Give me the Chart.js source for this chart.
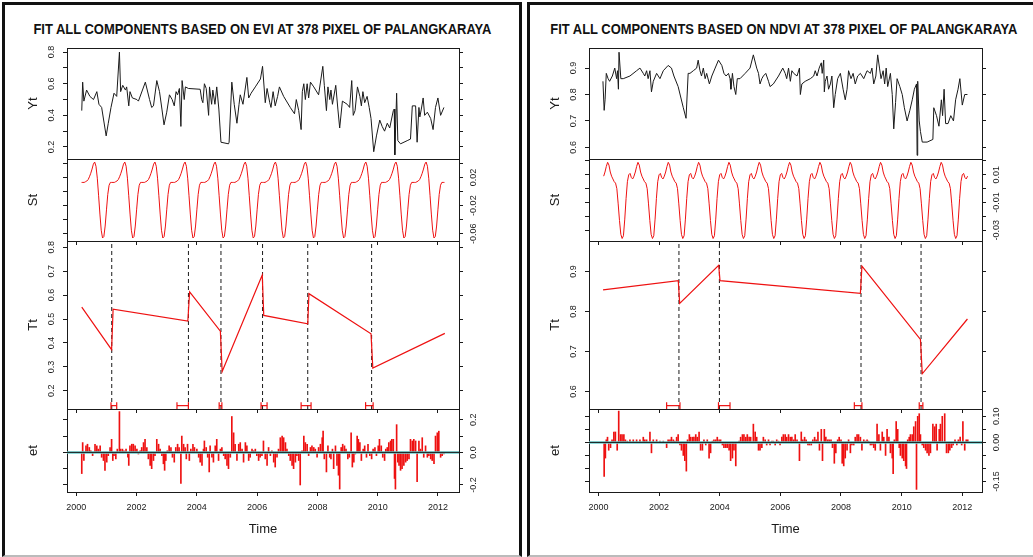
<!DOCTYPE html>
<html><head><meta charset="utf-8">
<script src="https://cdn.jsdelivr.net/npm/chart.js@4.4.1/dist/chart.umd.min.js"></script>
<style>
html,body{margin:0;padding:0;background:#fff;}
body{width:1033px;height:557px;position:relative;overflow:hidden;font-family:"Liberation Sans",Arial,Helvetica,sans-serif;}
.frame{position:absolute;box-sizing:border-box;border:3px solid #111;border-bottom:2px solid #bbb;}
.title{position:absolute;left:0;top:0;font-weight:bold;font-size:14px;line-height:16px;white-space:nowrap;color:#111;transform-origin:center center;}
canvas{position:absolute;}
</style></head>
<body>
<div class="frame" style="left:2px;top:2px;width:520px;height:555px"></div>
<div class="frame" style="left:527px;top:2px;width:520px;height:555px"></div>
<div class="title" id="titleEVI">FIT ALL COMPONENTS BASED ON EVI AT 378 PIXEL OF PALANGKARAYA</div>
<div class="title" id="titleNDVI">FIT ALL COMPONENTS BASED ON NDVI AT 378 PIXEL OF PALANGKARAYA</div>
<script>
// ---------------- data (times are years since 2000) ----------------
const BASE_YEAR = 2000;
const TS_START = 2000 + 4/23, TS_FREQ = 23;   // 16-day composites
const xTickYears = [2000, 2002, 2004, 2006, 2008, 2010, 2012];

// EVI panel
const eviYtT = [0.18,0.21,0.25,0.34,0.45,0.57,0.68,0.75,0.84,0.99,1.06,1.15,1.25,1.34,1.43,1.47,1.54,1.63,1.67,1.74,1.78,1.86,2.01,2.06,2.29,2.43,2.50,2.56,2.67,2.76,2.84,2.91,3.00,3.09,3.18,3.25,3.31,3.36,3.42,3.47,3.51,3.58,3.62,3.72,4.11,4.16,4.20,4.25,4.31,4.39,4.42,4.49,4.53,4.60,4.66,4.73,4.80,5.05,5.07,5.16,5.24,5.33,5.40,5.44,5.53,5.66,5.72,5.80,5.94,6.11,6.18,6.27,6.33,6.42,6.46,6.53,6.60,6.68,6.74,6.88,7.10,7.24,7.30,7.38,7.46,7.50,7.55,7.60,7.66,7.71,7.77,7.88,8.04,8.18,8.23,8.30,8.35,8.41,8.45,8.50,8.61,8.68,8.74,8.83,8.99,9.07,9.14,9.19,9.25,9.33,9.41,9.46,9.51,9.57,9.65,9.72,9.78,9.87,9.96,10.07,10.15,10.23,10.32,10.40,10.52,10.55,10.57,10.63,10.67,10.76,10.98,11.09,11.15,11.26,11.31,11.37,11.40,11.45,11.51,11.56,11.65,11.76,11.84,11.92,12.00,12.09,12.20];
const eviYtV = [0.43,0.61,0.49,0.56,0.52,0.50,0.55,0.47,0.45,0.27,0.35,0.45,0.54,0.52,0.80,0.55,0.59,0.56,0.58,0.46,0.55,0.51,0.50,0.49,0.61,0.50,0.45,0.46,0.62,0.55,0.44,0.34,0.42,0.53,0.50,0.46,0.55,0.53,0.57,0.33,0.62,0.50,0.58,0.57,0.565,0.50,0.48,0.60,0.57,0.40,0.58,0.47,0.56,0.47,0.58,0.44,0.23,0.22,0.23,0.61,0.47,0.35,0.47,0.53,0.47,0.64,0.51,0.54,0.58,0.63,0.71,0.48,0.57,0.48,0.45,0.55,0.46,0.52,0.58,0.52,0.45,0.41,0.50,0.43,0.31,0.55,0.60,0.50,0.60,0.51,0.61,0.58,0.53,0.71,0.59,0.43,0.58,0.50,0.56,0.47,0.59,0.44,0.32,0.49,0.47,0.45,0.62,0.40,0.43,0.58,0.52,0.46,0.55,0.48,0.52,0.45,0.38,0.17,0.27,0.37,0.33,0.30,0.35,0.32,0.43,0.44,0.15,0.54,0.24,0.22,0.24,0.25,0.46,0.46,0.23,0.45,0.39,0.44,0.51,0.40,0.42,0.38,0.31,0.45,0.51,0.40,0.45];
const eviSt = [
 0.013,0.013,0.013,0.014,0.015,0.017,0.021,0.026,0.032,0.039,0.042,0.036,0.019,-0.006,-0.032,-0.055,-0.066,-0.064,-0.049,
 -0.026,-0.004,0.009,0.013,0.013,0.013,0.013,0.014,0.015,0.017,0.021,0.026,0.032,0.039,0.042,0.036,0.019,-0.006,-0.032,-0.055,-0.066,-0.064,-0.049,
 -0.026,-0.004,0.009,0.013,0.013,0.013,0.013,0.014,0.015,0.017,0.021,0.026,0.032,0.039,0.042,0.036,0.019,-0.006,-0.032,-0.055,-0.066,-0.064,-0.049,
 -0.026,-0.004,0.009,0.013,0.013,0.013,0.013,0.014,0.015,0.017,0.021,0.026,0.032,0.039,0.042,0.036,0.019,-0.006,-0.032,-0.055,-0.066,-0.064,-0.049,
 -0.026,-0.004,0.009,0.013,0.013,0.013,0.013,0.014,0.015,0.017,0.021,0.026,0.032,0.039,0.042,0.036,0.019,-0.006,-0.032,-0.055,-0.066,-0.064,-0.049,
 -0.026,-0.004,0.009,0.013,0.013,0.013,0.013,0.014,0.015,0.017,0.021,0.026,0.032,0.039,0.042,0.036,0.019,-0.006,-0.032,-0.055,-0.066,-0.064,-0.049,
 -0.026,-0.004,0.009,0.013,0.013,0.013,0.013,0.014,0.015,0.017,0.021,0.026,0.032,0.039,0.042,0.036,0.019,-0.006,-0.032,-0.055,-0.066,-0.064,-0.049,
 -0.026,-0.004,0.009,0.013,0.013,0.013,0.013,0.014,0.015,0.017,0.021,0.026,0.032,0.039,0.042,0.036,0.019,-0.006,-0.032,-0.055,-0.066,-0.064,-0.049,
 -0.026,-0.004,0.009,0.013,0.013,0.013,0.013,0.014,0.015,0.017,0.021,0.026,0.032,0.039,0.042,0.036,0.019,-0.006,-0.032,-0.055,-0.066,-0.064,-0.049,
 -0.026,-0.004,0.009,0.013,0.013,0.013,0.013,0.014,0.015,0.017,0.021,0.026,0.032,0.039,0.042,0.036,0.019,-0.006,-0.032,-0.055,-0.066,-0.064,-0.049,
 -0.026,-0.004,0.009,0.013,0.013,0.013,0.013,0.014,0.015,0.017,0.021,0.026,0.032,0.039,0.042,0.036,0.019,-0.006,-0.032,-0.055,-0.066,-0.064,-0.049,
 -0.026,-0.004,0.009,0.013,0.013,0.013,0.013,0.014,0.015,0.017,0.021,0.026,0.032,0.039,0.042,0.036,0.019,-0.006,-0.032,-0.055,-0.066,-0.064,-0.049,
 -0.026,-0.004,0.009,0.013,0.013,0.013
];
const eviTtSegStart = [0.18,1.22,3.76,4.84,6.22,7.72,9.84];
const eviTtSegEnd   = [1.17,3.70,4.78,6.17,7.68,9.78,12.23];
const eviTtStartVal = [0.550,0.541,0.613,0.281,0.515,0.606,0.295];
const eviTtEndVal   = [0.372,0.491,0.449,0.684,0.480,0.438,0.440];
const eviBreaks = [1.175,3.72,4.80,6.18,7.68,9.80];
const eviCiLow  = [1.15,3.34,4.74,6.13,7.46,9.60];
const eviCiHigh = [1.34,3.72,4.83,6.33,7.79,9.85];
const eviEtT = [0.18,0.21,0.25,0.32,0.37,0.43,0.48,0.54,0.62,0.68,0.73,0.79,0.84,0.90,0.95,1.01,1.06,1.12,1.17,1.21,1.25,1.31,1.36,1.43,1.47,1.53,1.58,1.65,1.71,1.74,1.78,1.84,1.89,1.95,2.01,2.06,2.12,2.17,2.23,2.28,2.34,2.39,2.45,2.50,2.56,2.61,2.67,2.73,2.78,2.84,2.89,2.93,2.97,3.02,3.08,3.14,3.19,3.25,3.30,3.36,3.41,3.47,3.50,3.56,3.61,3.65,3.69,3.75,3.80,3.87,3.92,4.00,4.06,4.11,4.17,4.22,4.25,4.31,4.36,4.41,4.44,4.50,4.55,4.61,4.66,4.72,4.78,4.83,4.89,4.94,5.00,5.05,5.11,5.16,5.22,5.27,5.33,5.39,5.44,5.50,5.55,5.61,5.66,5.72,5.77,5.83,5.88,5.94,5.99,6.05,6.10,6.16,6.21,6.27,6.33,6.38,6.44,6.49,6.55,6.60,6.66,6.71,6.77,6.83,6.88,6.94,6.99,7.05,7.10,7.16,7.21,7.27,7.32,7.38,7.43,7.49,7.55,7.60,7.66,7.71,7.77,7.82,7.88,7.93,7.99,8.04,8.10,8.16,8.19,8.23,8.30,8.35,8.41,8.45,8.50,8.54,8.60,8.65,8.70,8.74,8.79,8.84,8.90,8.95,9.01,9.06,9.12,9.16,9.21,9.26,9.32,9.36,9.41,9.46,9.52,9.57,9.63,9.68,9.74,9.80,9.85,9.91,9.96,10.02,10.06,10.12,10.17,10.23,10.27,10.32,10.37,10.43,10.47,10.52,10.56,10.59,10.63,10.67,10.71,10.76,10.81,10.87,10.93,10.98,11.04,11.09,11.15,11.20,11.26,11.31,11.37,11.42,11.48,11.53,11.59,11.65,11.70,11.76,11.81,11.87,11.92,11.98,12.03,12.09,12.14,12.20];
const eviEtV = [-0.13,0.06,-0.05,0.04,0.05,0.03,0.01,-0.02,0.05,0.04,0.02,0.04,-0.03,-0.05,-0.11,-0.06,-0.02,0.03,0.08,-0.05,-0.02,-0.04,0.02,0.25,0.02,0.02,0.01,0.02,-0.03,-0.08,0.04,0.05,0.05,0.04,0.02,-0.01,0.01,0.03,0.06,0.08,0.03,-0.04,-0.08,-0.10,-0.05,-0.02,0.08,0.05,0.02,-0.02,-0.07,-0.11,-0.05,0.01,0.04,0.03,-0.03,-0.06,0.03,0.05,0.03,-0.19,0.10,0.05,0.03,-0.04,0.05,-0.05,0.02,0.05,0.03,0.02,-0.03,-0.06,-0.08,0.02,0.07,0.03,-0.03,-0.12,0.04,-0.03,-0.06,0.04,0.08,-0.05,0.02,0.03,-0.02,-0.04,-0.08,-0.10,-0.03,0.22,0.12,0.05,-0.05,0.05,0.06,0.02,-0.06,0.06,0.04,-0.05,-0.03,0.02,0.01,0.02,-0.02,-0.05,-0.03,-0.02,0.07,-0.04,-0.08,0.03,-0.02,0.01,-0.06,-0.09,-0.03,0.02,0.09,0.10,0.09,0.06,0.02,-0.02,-0.05,-0.08,-0.10,-0.06,-0.02,-0.05,-0.20,0.01,0.10,0.06,0.05,-0.02,0.03,0.04,0.03,0.02,-0.03,0.03,0.05,0.09,0.13,-0.04,-0.12,0.04,-0.03,-0.04,0.02,-0.10,0.04,-0.08,-0.14,-0.225,0.03,0.05,0.04,0.02,-0.04,-0.03,0.12,-0.09,-0.06,-0.01,0.10,0.08,0.06,-0.05,0.02,0.04,-0.03,0.05,-0.02,-0.04,0.02,0.03,-0.02,0.04,0.08,0.04,-0.03,-0.05,0.02,0.03,0.06,0.07,0.08,0.08,-0.16,-0.225,0.17,-0.06,-0.08,-0.11,-0.10,-0.08,-0.06,-0.05,-0.04,0.08,0.07,0.08,0.07,-0.18,0.07,0.02,0.09,-0.03,0.04,-0.03,-0.02,-0.04,-0.05,-0.07,0.10,0.12,0.13,-0.03,-0.02,-0.01];
const eviYtTicks = [0.2,0.3,0.4,0.5,0.6,0.7,0.8], eviYtLabels = [0.2,0.4,0.6,0.8];
const eviStTicks = [-0.06,-0.04,-0.02,0,0.02,0.04], eviStLabels = [0.02,-0.02,-0.06];
const eviTtTicks = [0.2,0.3,0.4,0.5,0.6,0.7,0.8], eviTtLabels = [0.2,0.3,0.4,0.5,0.6,0.7,0.8];
const eviEtTicks = [-0.2,-0.1,0,0.1,0.2], eviEtLabels = [0.2,0,-0.2];

// NDVI panel
const ndviYtT = [0.15,0.19,0.22,0.26,0.32,0.37,0.46,0.54,0.60,0.63,0.66,0.68,0.74,0.82,1.04,1.26,1.37,1.48,1.53,1.59,1.64,1.70,1.75,1.81,1.92,2.03,2.14,2.30,2.41,2.49,2.63,2.80,2.89,2.96,3.02,3.13,3.24,3.29,3.35,3.40,3.46,3.52,3.57,3.66,3.74,3.85,3.96,4.07,4.14,4.21,4.29,4.34,4.37,4.42,4.47,4.53,4.58,4.67,4.84,5.00,5.11,5.22,5.28,5.33,5.39,5.44,5.52,5.61,5.66,5.77,5.94,6.08,6.16,6.21,6.27,6.33,6.38,6.44,6.55,6.63,6.66,6.71,6.82,6.99,7.10,7.15,7.21,7.28,7.35,7.38,7.43,7.45,7.48,7.54,7.59,7.65,7.70,7.76,7.81,7.89,7.98,8.07,8.14,8.20,8.25,8.33,8.40,8.47,8.55,8.64,8.75,8.86,8.97,9.02,9.08,9.15,9.21,9.27,9.32,9.39,9.44,9.49,9.54,9.63,9.69,9.74,9.80,9.85,9.94,10.02,10.09,10.18,10.27,10.35,10.42,10.49,10.51,10.53,10.58,10.62,10.68,10.84,11.03,11.06,11.15,11.23,11.31,11.35,11.40,11.45,11.53,11.62,11.71,11.78,11.86,11.92,12.00,12.08,12.17];
const ndviYtV = [0.85,0.74,0.78,0.88,0.86,0.85,0.87,0.90,0.86,0.89,0.82,0.96,0.86,0.86,0.87,0.89,0.90,0.88,0.87,0.89,0.86,0.89,0.81,0.85,0.88,0.86,0.89,0.91,0.90,0.87,0.83,0.75,0.71,0.88,0.88,0.89,0.90,0.93,0.89,0.87,0.90,0.86,0.88,0.84,0.87,0.90,0.93,0.91,0.88,0.87,0.88,0.86,0.82,0.88,0.83,0.80,0.86,0.86,0.88,0.90,0.95,0.90,0.88,0.84,0.86,0.87,0.88,0.85,0.83,0.84,0.87,0.90,0.88,0.86,0.90,0.85,0.89,0.88,0.87,0.90,0.80,0.84,0.85,0.86,0.87,0.89,0.87,0.90,0.92,0.88,0.93,0.81,0.85,0.87,0.82,0.84,0.87,0.75,0.80,0.86,0.88,0.82,0.78,0.82,0.89,0.86,0.88,0.84,0.87,0.88,0.86,0.89,0.88,0.90,0.84,0.87,0.95,0.90,0.86,0.89,0.84,0.90,0.83,0.88,0.80,0.67,0.77,0.86,0.83,0.80,0.75,0.70,0.74,0.78,0.82,0.84,0.57,0.85,0.70,0.66,0.62,0.62,0.63,0.75,0.72,0.68,0.78,0.72,0.82,0.69,0.69,0.72,0.70,0.78,0.82,0.86,0.76,0.80,0.80];
const ndviSt = [
 0.009,0.012,0.016,0.019,0.017,0.012,0.009,0.007,0.005,0.004,0.000,-0.011,-0.023,-0.033,-0.036,-0.034,-0.022,-0.007,0.005,
 0.010,0.011,0.008,0.007,0.009,0.012,0.016,0.019,0.017,0.012,0.009,0.007,0.005,0.004,0.000,-0.011,-0.023,-0.033,-0.036,-0.034,-0.022,-0.007,0.005,
 0.010,0.011,0.008,0.007,0.009,0.012,0.016,0.019,0.017,0.012,0.009,0.007,0.005,0.004,0.000,-0.011,-0.023,-0.033,-0.036,-0.034,-0.022,-0.007,0.005,
 0.010,0.011,0.008,0.007,0.009,0.012,0.016,0.019,0.017,0.012,0.009,0.007,0.005,0.004,0.000,-0.011,-0.023,-0.033,-0.036,-0.034,-0.022,-0.007,0.005,
 0.010,0.011,0.008,0.007,0.009,0.012,0.016,0.019,0.017,0.012,0.009,0.007,0.005,0.004,0.000,-0.011,-0.023,-0.033,-0.036,-0.034,-0.022,-0.007,0.005,
 0.010,0.011,0.008,0.007,0.009,0.012,0.016,0.019,0.017,0.012,0.009,0.007,0.005,0.004,0.000,-0.011,-0.023,-0.033,-0.036,-0.034,-0.022,-0.007,0.005,
 0.010,0.011,0.008,0.007,0.009,0.012,0.016,0.019,0.017,0.012,0.009,0.007,0.005,0.004,0.000,-0.011,-0.023,-0.033,-0.036,-0.034,-0.022,-0.007,0.005,
 0.010,0.011,0.008,0.007,0.009,0.012,0.016,0.019,0.017,0.012,0.009,0.007,0.005,0.004,0.000,-0.011,-0.023,-0.033,-0.036,-0.034,-0.022,-0.007,0.005,
 0.010,0.011,0.008,0.007,0.009,0.012,0.016,0.019,0.017,0.012,0.009,0.007,0.005,0.004,0.000,-0.011,-0.023,-0.033,-0.036,-0.034,-0.022,-0.007,0.005,
 0.010,0.011,0.008,0.007,0.009,0.012,0.016,0.019,0.017,0.012,0.009,0.007,0.005,0.004,0.000,-0.011,-0.023,-0.033,-0.036,-0.034,-0.022,-0.007,0.005,
 0.010,0.011,0.008,0.007,0.009,0.012,0.016,0.019,0.017,0.012,0.009,0.007,0.005,0.004,0.000,-0.011,-0.023,-0.033,-0.036,-0.034,-0.022,-0.007,0.005,
 0.010,0.011,0.008,0.007,0.009,0.012,0.016,0.019,0.017,0.012,0.009,0.007,0.005,0.004,0.000,-0.011,-0.023,-0.033,-0.036,-0.034,-0.022,-0.007,0.005,
 0.010,0.011,0.008,0.007,0.009
];
const ndviTtSegStart = [0.154,2.68,4.01,8.69,10.68];
const ndviTtSegEnd   = [2.634,3.967,8.64,10.62,12.17];
const ndviTtStartVal = [0.854,0.820,0.877,0.913,0.644];
const ndviTtEndVal   = [0.877,0.915,0.845,0.730,0.781];
const ndviBreaks = [2.656,3.99,8.66,10.64];
const ndviCiLow  = [2.25,3.96,8.44,10.58];
const ndviCiHigh = [2.69,4.34,8.69,10.70];
const ndviEtT = [0.19,0.23,0.26,0.30,0.34,0.40,0.45,0.51,0.56,0.62,0.67,0.73,0.78,0.84,0.89,0.95,1.04,1.15,1.26,1.37,1.48,1.53,1.59,1.70,1.75,1.81,1.92,2.03,2.14,2.25,2.30,2.36,2.41,2.47,2.52,2.58,2.63,2.69,2.74,2.80,2.85,2.90,2.94,3.00,3.04,3.10,3.15,3.21,3.26,3.32,3.37,3.43,3.48,3.54,3.59,3.65,3.70,3.76,3.81,3.87,3.92,3.98,4.03,4.09,4.14,4.20,4.25,4.31,4.36,4.42,4.47,4.53,4.58,4.64,4.69,4.75,4.80,4.86,4.91,4.97,5.02,5.11,5.17,5.22,5.28,5.33,5.39,5.44,5.50,5.55,5.61,5.66,5.72,5.77,5.83,5.88,5.94,5.99,6.05,6.10,6.16,6.21,6.27,6.33,6.38,6.44,6.49,6.55,6.63,6.69,6.74,6.80,6.85,6.91,6.96,7.02,7.07,7.13,7.18,7.24,7.29,7.35,7.39,7.45,7.50,7.56,7.61,7.67,7.72,7.78,7.83,7.89,7.94,8.00,8.04,8.09,8.14,8.20,8.25,8.31,8.36,8.42,8.47,8.53,8.58,8.64,8.69,8.75,8.80,8.86,8.91,8.97,9.02,9.08,9.13,9.19,9.25,9.30,9.36,9.41,9.47,9.52,9.58,9.63,9.69,9.72,9.76,9.82,9.87,9.92,9.96,10.02,10.07,10.13,10.16,10.20,10.25,10.29,10.35,10.40,10.46,10.49,10.53,10.58,10.62,10.68,10.73,10.79,10.84,10.90,10.95,11.03,11.09,11.14,11.17,11.24,11.28,11.34,11.42,11.48,11.54,11.59,11.65,11.70,11.76,11.82,11.87,11.93,11.98,12.02,12.08,12.13,12.18];
const ndviEtV = [-0.13,-0.06,0.01,0.02,-0.03,-0.02,0.01,0.04,0.04,-0.03,0.12,0.03,0.03,0.03,0.01,0.005,0.01,0.01,0.01,0.01,0.02,0.01,0.01,0.04,-0.04,0.01,0.01,0.005,0.005,-0.02,0.01,0.01,0.02,0.01,0.005,0.02,0.03,-0.01,-0.03,-0.05,-0.07,-0.11,0.01,0.03,0.02,0.02,0.02,0.03,0.02,0.04,-0.03,-0.03,0.01,-0.01,0.01,-0.06,-0.04,0.005,0.01,0.01,0.02,0.01,0.01,-0.01,-0.02,-0.02,-0.02,-0.03,-0.07,-0.06,-0.03,-0.09,0.00,0.005,0.02,0.03,0.03,0.02,0.03,0.02,0.02,0.07,0.04,0.02,-0.03,-0.03,-0.02,0.02,0.01,-0.01,0.01,-0.01,0.005,0.005,-0.01,0.01,0.005,-0.01,0.02,0.03,0.03,0.02,0.03,0.02,0.02,0.01,0.03,0.01,-0.07,0.04,0.01,0.02,0.01,-0.01,-0.01,-0.01,0.01,0.02,0.01,0.04,-0.03,0.05,-0.07,0.05,0.02,0.01,0.01,0.01,-0.02,-0.08,-0.04,0.01,0.02,0.01,-0.08,-0.09,-0.06,-0.03,0.01,-0.04,-0.01,-0.01,0.02,0.03,0.03,0.02,-0.03,0.01,0.005,0.01,0.005,-0.01,-0.01,-0.02,-0.03,0.07,0.03,-0.03,0.04,0.02,-0.05,0.05,0.02,-0.04,-0.06,-0.12,0.01,0.08,0.05,-0.02,-0.05,-0.06,-0.07,-0.09,-0.10,0.01,0.02,0.03,0.03,0.06,0.08,-0.18,0.10,0.11,0.03,-0.01,-0.02,-0.03,-0.04,-0.05,-0.04,0.07,0.06,0.07,-0.03,0.05,0.07,0.10,0.11,-0.04,-0.04,-0.03,-0.02,-0.01,0.01,-0.01,0.01,0.02,-0.01,0.08,-0.03,0.01,0.01];
const ndviYtTicks = [0.6,0.7,0.8,0.9], ndviYtLabels = [0.6,0.7,0.8,0.9];
const ndviStTicks = [-0.03,-0.02,-0.01,0,0.01,0.02], ndviStLabels = [0.01,-0.01,-0.03];
const ndviTtTicks = [0.6,0.7,0.8,0.9], ndviTtLabels = [0.6,0.7,0.8,0.9];
const ndviEtTicks = [-0.15,-0.1,-0.05,0,0.05,0.1], ndviEtLabels = [0.1,0,-0.15];

// ---------------- drawing ----------------
Chart.defaults.font.family = '"Liberation Sans", Arial, Helvetica, sans-serif';
const INK = '#1a1a1a', RED = '#ee1111';

function labelPlugin(p) {
  return {
    id: 'rotLabels',
    afterDraw(chart) {
      const ctx = chart.ctx, a = chart.chartArea;
      ctx.save();
      ctx.fillStyle = INK; ctx.textAlign = 'center'; ctx.textBaseline = 'middle';
      const sc = chart.scales[p.labelSide === 'left' ? 'y' : 'y2'];
      const x = p.labelSide === 'left' ? a.left - 15 : a.right + 15;
      ctx.font = '9px "Liberation Sans", Arial, sans-serif';
      p.yLabels.forEach(v => {
        const y = sc.getPixelForValue(v);
        ctx.save(); ctx.translate(x, y); ctx.rotate(-Math.PI / 2);
        ctx.fillText(v.toFixed(p.digits), 0, 0); ctx.restore();
      });
      ctx.font = '13px "Liberation Sans", Arial, sans-serif';
      ctx.translate(a.left - 34, (a.top + a.bottom) / 2);
      ctx.rotate(-Math.PI / 2);
      ctx.fillText(p.name, 0, 0);
      ctx.restore();
    }
  };
}

function subplot(p) {
  const cv = document.createElement('canvas');
  const W = p.plotW + 110, H = p.plotH + 8 + p.bottomH;
  cv.width = W; cv.height = H;
  cv.style.left = (p.plotLeft - 60) + 'px'; cv.style.top = (p.plotTop - 8) + 'px';
  cv.style.width = W + 'px'; cv.style.height = H + 'px';
  document.body.appendChild(cv);
  const border = {display: true, color: INK, width: 1};
  const yAxis = (pos, w) => ({
    type: 'linear', position: pos, min: p.ymin, max: p.ymax, border,
    grid: {display: true, drawOnChartArea: false, drawTicks: true, tickLength: 4, color: INK},
    ticks: {display: false},
    afterBuildTicks: s => { s.ticks = p.yTicks.map(v => ({value: v})); },
    afterFit: s => { s.width = w; }
  });
  new Chart(cv, {
    type: 'line',
    data: {datasets: p.datasets},
    options: {
      responsive: false, animation: false, devicePixelRatio: 1, events: [],
      layout: {padding: 0},
      plugins: {legend: {display: false}, tooltip: {enabled: false}, title: {display: false}},
      scales: {
        x: {
          type: 'linear', position: 'bottom', min: p.xmin, max: p.xmax, offset: false, border,
          grid: {display: true, drawOnChartArea: false, drawTicks: !!p.xTicks, tickLength: 4, color: INK, offset: false},
          ticks: {display: !!p.xLabels, autoSkip: false, maxRotation: 0, minRotation: 0, padding: 6,
                  font: {size: 9}, color: INK, callback: v => String(v)},
          afterBuildTicks: s => { s.ticks = (p.xTicks || []).map(v => ({value: v})); },
          afterFit: s => { s.height = p.bottomH; },
          title: {display: !!p.xLabels, text: 'Time', font: {size: 13}, color: INK, padding: {top: 0, bottom: 11}}
        },
        x2: {
          type: 'linear', position: 'top', min: p.xmin, max: p.xmax, offset: false, border,
          grid: {display: true, drawOnChartArea: false, drawTicks: false},
          ticks: {display: false},
          afterFit: s => { s.height = 8; }
        },
        y: yAxis('left', 60),
        y2: yAxis('right', 50)
      }
    },
    plugins: [labelPlugin(p)]
  });
}

const lineDs = (pts, color, width, extra) => Object.assign({
  type: 'line', data: pts, borderColor: color, borderWidth: width, pointRadius: 0,
  tension: 0, fill: false, xAxisID: 'x', yAxisID: 'y'}, extra || {});
const pairs = (T, V) => T.map((t, i) => ({x: BASE_YEAR + t, y: V[i]}));
const tsPts = V => V.map((v, i) => ({x: TS_START + i / TS_FREQ, y: v}));
const trendPts = (s, e, sv, ev) => s.flatMap((t, i) => [{x: BASE_YEAR + t, y: sv[i]}, {x: BASE_YEAR + e[i], y: ev[i]}]);

function buildPanel(q) {
  const common = {plotLeft: q.plotLeft, plotW: q.plotW, xmin: q.xmin, xmax: q.xmax};
  const rows = {yt: [48, 111], st: [159, 82], tt: [241, 168], et: [409, 83]};
  // Yt
  subplot(Object.assign({}, common, {
    plotTop: rows.yt[0], plotH: rows.yt[1], bottomH: 8, xTicks: null,
    ymin: q.yLim[0], ymax: q.yLim[1], yTicks: q.ytTicks, yLabels: q.ytLabels, digits: 1, labelSide: 'left', name: 'Yt',
    datasets: [lineDs(pairs(q.ytT, q.ytV), INK, 1)]
  }));
  // St
  subplot(Object.assign({}, common, {
    plotTop: rows.st[0], plotH: rows.st[1], bottomH: 8, xTicks: xTickYears,
    ymin: q.stLim[0], ymax: q.stLim[1], yTicks: q.stTicks, yLabels: q.stLabels, digits: 2, labelSide: 'right', name: 'St',
    datasets: [lineDs(tsPts(q.st), RED, 1)]
  }));
  // Tt
  const ciY = q.yLim[0] + 0.02 * (q.yLim[1] - q.yLim[0]);
  const ttDs = [lineDs(trendPts(q.segS, q.segE, q.segSV, q.segEV), RED, 1.2)];
  q.ciLow.forEach((lo, i) => ttDs.push(lineDs([{x: BASE_YEAR + lo, y: ciY}, {x: BASE_YEAR + q.ciHigh[i], y: ciY}], RED, 1.2,
      {pointStyle: 'line', pointRotation: 90, pointRadius: 3.5, pointBorderColor: RED, pointBorderWidth: 1.2})));
  q.breaks.forEach(b => ttDs.push(lineDs([{x: BASE_YEAR + b, y: q.yLim[0]}, {x: BASE_YEAR + b, y: q.yLim[1]}], INK, 1, {borderDash: [4, 3]})));
  subplot(Object.assign({}, common, {
    plotTop: rows.tt[0], plotH: rows.tt[1], bottomH: 8, xTicks: xTickYears,
    ymin: q.yLim[0], ymax: q.yLim[1], yTicks: q.ttTicks, yLabels: q.ttLabels, digits: 1, labelSide: 'left', name: 'Tt',
    datasets: ttDs
  }));
  // et
  subplot(Object.assign({}, common, {
    plotTop: rows.et[0], plotH: rows.et[1], bottomH: 56, xTicks: xTickYears, xLabels: true,
    ymin: q.etLim[0], ymax: q.etLim[1], yTicks: q.etTicks, yLabels: q.etLabels, digits: q.etDigits, labelSide: 'right', name: 'et',
    datasets: [
      lineDs([{x: q.xmin, y: 0}, {x: q.xmax, y: 0}], INK, 1),
      lineDs([{x: q.xmin, y: 0}, {x: q.xmax, y: 0}], '#66cccc', 2.5),
      {type: 'bar', data: pairs(q.etT, q.etV), backgroundColor: RED, borderWidth: 0, barThickness: 1, grouped: false, xAxisID: 'x', yAxisID: 'y'}
    ]
  }));
}

buildPanel({
  plotLeft: 67, plotW: 392, xmin: 1999.69, xmax: 2012.70,
  yLim: [0.124, 0.826], ytT: eviYtT, ytV: eviYtV, ytTicks: eviYtTicks, ytLabels: eviYtLabels,
  stLim: [-0.0703, 0.0463], st: eviSt, stTicks: eviStTicks, stLabels: eviStLabels,
  segS: eviTtSegStart, segE: eviTtSegEnd, segSV: eviTtStartVal, segEV: eviTtEndVal,
  breaks: eviBreaks, ciLow: eviCiLow, ciHigh: eviCiHigh, ttTicks: eviTtTicks, ttLabels: eviTtLabels,
  etLim: [-0.243, 0.266], etT: eviEtT, etV: eviEtV, etTicks: eviEtTicks, etLabels: eviEtLabels, etDigits: 1
});
buildPanel({
  plotLeft: 589, plotW: 393, xmin: 1999.69, xmax: 2012.65,
  yLim: [0.556, 0.976], ytT: ndviYtT, ytV: ndviYtV, ytTicks: ndviYtTicks, ytLabels: ndviYtLabels,
  stLim: [-0.0378, 0.0214], st: ndviSt, stTicks: ndviStTicks, stLabels: ndviStLabels,
  segS: ndviTtSegStart, segE: ndviTtSegEnd, segSV: ndviTtStartVal, segEV: ndviTtEndVal,
  breaks: ndviBreaks, ciLow: ndviCiLow, ciHigh: ndviCiHigh, ttTicks: ndviTtTicks, ttLabels: ndviTtLabels,
  etLim: [-0.19, 0.128], etT: ndviEtT, etV: ndviEtV, etTicks: ndviEtTicks, etLabels: ndviEtLabels, etDigits: 2
});

function placeTitle(id, cx, cy, targetW) {
  const el = document.getElementById(id);
  const r = el.getBoundingClientRect();
  el.style.left = (cx - r.width / 2) + 'px';
  el.style.top = (cy - r.height / 2) + 'px';
  el.style.transform = 'scaleX(' + (targetW / r.width).toFixed(4) + ')';
}
placeTitle('titleEVI', 262.5, 28.5, 458);
placeTitle('titleNDVI', 784, 28.5, 467);
</script>
</body></html>
